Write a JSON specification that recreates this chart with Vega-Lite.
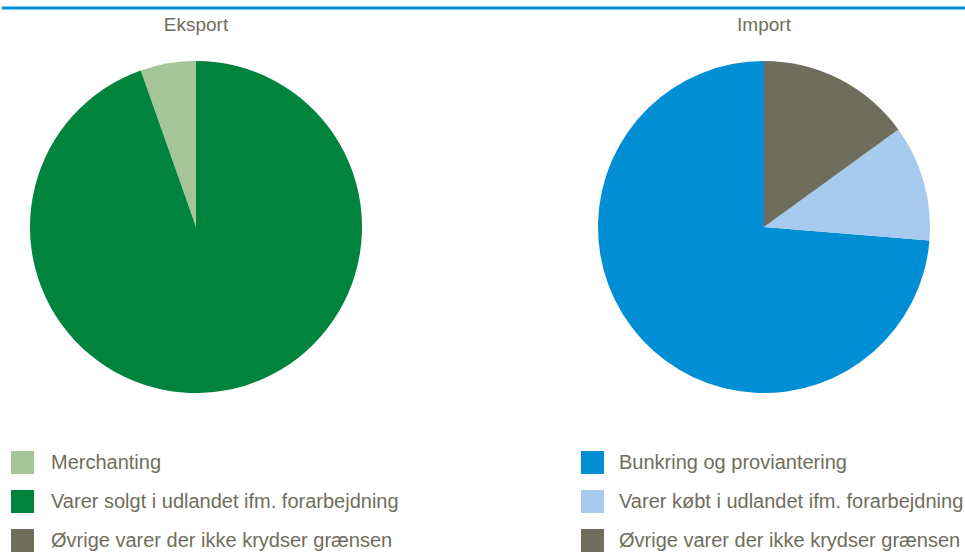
{
  "$schema": "https://vega.github.io/schema/vega-lite/v6.json",
  "padding": {"top": 6, "left": 0, "right": 0, "bottom": 0},
  "background": "white",
  "config": {
    "view": {"stroke": null},
    "font": "Liberation Sans",
    "title": {"fontSize": 19, "fontWeight": "normal", "color": "#6f6e5c", "font": "Liberation Sans", "baseline": "bottom", "offset": 6},
    "legend": {
      "orient": "none",
      "direction": "vertical",
      "symbolType": "square",
      "symbolSize": 529,
      "symbolStrokeWidth": 0,
      "symbolOpacity": 1,
      "labelFontSize": 20,
      "labelFont": "Liberation Sans",
      "labelColor": "#6f6e5c",
      "labelOffset": 17,
      "labelLimit": 0,
      "rowPadding": 16,
      "title": null
    }
  },
  "spacing": 6,
  "vconcat": [
    {
      "width": 965,
      "height": 1,
      "data": {"values": [{"v": 1}]},
      "mark": {"type": "rule", "color": "#008fd5", "strokeWidth": 3},
      "encoding": {
        "y": {"field": "v", "type": "quantitative", "axis": null, "scale": {"domain": [0, 1]}}
      }
    },
    {
      "spacing": 169,
      "resolve": {"scale": {"color": "independent", "theta": "independent"}},
      "hconcat": [
        {
          "title": "Eksport",
          "width": 388,
          "height": 372,
          "data": {"values": [
            {"kategori": "Merchanting", "andel": 5.4, "rang": 1},
            {"kategori": "Varer solgt i udlandet ifm. forarbejdning", "andel": 94.6, "rang": 2},
            {"kategori": "Øvrige varer der ikke krydser grænsen", "andel": 0, "rang": 3}
          ]},
          "mark": {"type": "arc", "outerRadius": 166, "strokeWidth": 0},
          "encoding": {
            "theta": {"field": "andel", "type": "quantitative", "stack": true},
            "order": {"field": "rang", "type": "quantitative", "sort": "descending"},
            "color": {
              "field": "kategori",
              "type": "nominal",
              "scale": {
                "domain": ["Merchanting", "Varer solgt i udlandet ifm. forarbejdning", "Øvrige varer der ikke krydser grænsen"],
                "range": ["#a5c497", "#00843d", "#6f6e5c"]
              },
              "legend": {"legendX": 9, "legendY": 410}
            }
          }
        },
        {
          "title": "Import",
          "width": 392,
          "height": 372,
          "data": {"values": [
            {"kategori": "Bunkring og proviantering", "andel": 73.7, "rang": 1},
            {"kategori": "Varer købt i udlandet ifm. forarbejdning", "andel": 11.3, "rang": 2},
            {"kategori": "Øvrige varer der ikke krydser grænsen", "andel": 15.0, "rang": 3}
          ]},
          "mark": {"type": "arc", "outerRadius": 166, "strokeWidth": 0},
          "encoding": {
            "theta": {"field": "andel", "type": "quantitative", "stack": true},
            "order": {"field": "rang", "type": "quantitative", "sort": "descending"},
            "color": {
              "field": "kategori",
              "type": "nominal",
              "scale": {
                "domain": ["Bunkring og proviantering", "Varer købt i udlandet ifm. forarbejdning", "Øvrige varer der ikke krydser grænsen"],
                "range": ["#008fd5", "#a6cbee", "#6f6e5c"]
              },
              "legend": {"legendX": 13, "legendY": 410, "labelOffset": 15}
            }
          }
        }
      ]
    }
  ]
}
